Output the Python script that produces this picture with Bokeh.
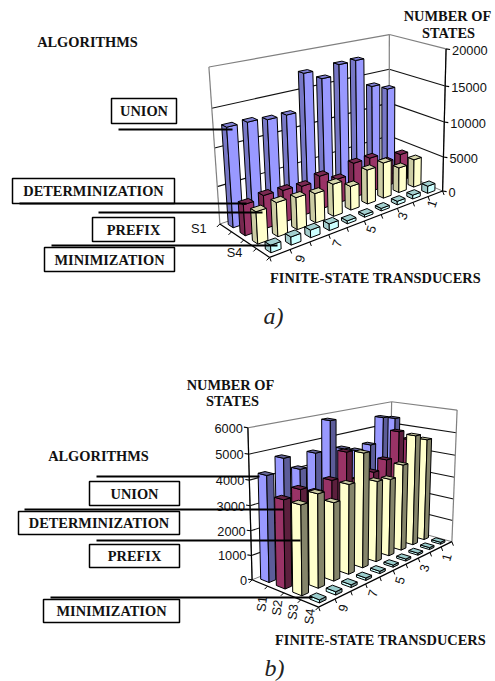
import numpy as np
from bokeh.plotting import figure
from bokeh.embed import file_html
from bokeh.resources import INLINE
from bokeh.core.properties import value

CATEGORIES = [1, 2, 3, 4, 5, 6, 7, 8, 9, 10]
SERIES = ["S1", "S2", "S3", "S4"]

# panel a), categories 1..10
A_UNION = [12900, 13800, 17900, 17800, 16400, 17600, 12700, 12700, 13000, 13000]
A_DETERMINIZATION = [4000, 3600, 4900, 4900, 3400, 4600, 4000, 4250, 4400, 4050]
A_PREFIX = [4050, 3600, 5050, 4800, 3300, 4400, 3950, 4250, 4450, 4150]
A_MINIMIZATION = [1050, 550, 500, 350, 350, 400, 900, 1000, 1050, 950]
A_TICKS = [0, 5000, 10000, 15000, 20000]

# panel b), categories 1..10
B_UNION = [5370, 5520, 4420, 4300, 4530, 5850, 4650, 4150, 4750, 4250]
B_DETERMINIZATION = [4500, 5000, 3890, 3510, 3340, 4680, 3690, 3380, 3690, 3490]
B_PREFIX = [4630, 4940, 3810, 3360, 3450, 4780, 3690, 3160, 3700, 3480]
B_MINIMIZATION = [90, 90, 90, 90, 90, 100, 100, 110, 130, 120]
B_TICKS = [0, 1000, 2000, 3000, 4000, 5000, 6000]

CAT_LABELS = ["1", "3", "5", "7", "9"]

SERIF = value("Liberation Serif")
SANS = value("Liberation Sans")


def fit_camera(pairs):
    """Least-squares projective camera from (u, v, w) -> (x, y) correspondences."""
    rows, rhs = [], []
    for (u, v, w), (x, y) in pairs:
        rows.append([u, v, w, 1, 0, 0, 0, 0, -x * u, -x * v, -x * w])
        rhs.append(x)
        rows.append([0, 0, 0, 0, u, v, w, 1, -y * u, -y * v, -y * w])
        rhs.append(y)
    sol = np.linalg.lstsq(np.array(rows, float), np.array(rhs, float), rcond=None)[0]
    return np.append(sol, 1).reshape(3, 4)


def project(cam, u, v, w):
    h = cam @ np.array([u, v, w, 1.0])
    return h[0] / h[2], h[1] / h[2]


p = figure(width=495, height=681, x_range=(0, 495), y_range=(681, 0),
           output_backend="svg", toolbar_location=None, min_border=0,
           outline_line_color=None, background_fill_color="white")
p.axis.visible = False
p.grid.visible = False


def seg(cam, a, b, color, width=1.0):
    x0, y0 = project(cam, *a)
    x1, y1 = project(cam, *b)
    p.line([x0, x1], [y0, y1], line_color=color, line_width=width)


def draw_chart(cam, data, ticks, faces, hu, hv):
    vmax = ticks[-1]
    # walls: outer edges in grey, gridlines in black
    for t in ticks[1:-1]:
        w = t / vmax
        seg(cam, (10, 0, w), (0, 0, w), "#111111", 1.1)
        seg(cam, (0, 0, w), (0, 4, w), "#111111", 1.1)
    seg(cam, (10, 0, 1), (0, 0, 1), "#808080", 1.2)
    seg(cam, (0, 0, 1), (0, 4, 1), "#808080", 1.2)
    seg(cam, (0, 0, 0), (0, 0, 1), "#808080", 1.2)
    seg(cam, (10, 0, 0), (10, 0, 1), "#808080", 1.2)
    seg(cam, (0, 4, 0), (0, 4, 1), "#808080", 1.2)
    # floor
    seg(cam, (0, 0, 0), (10, 0, 0), "#808080")
    seg(cam, (0, 0, 0), (0, 4, 0), "#808080")
    # bars, painted from the far corner toward the viewer
    for s, vals in enumerate(data):
        for c, val in zip(CATEGORIES, vals):
            u0, u1 = c - 0.5 - hu, c - 0.5 + hu
            v0, v1 = s + 0.5 - hv, s + 0.5 + hv
            w = val / vmax
            quads = [
                ([(u1, v0, 0), (u1, v1, 0), (u1, v1, w), (u1, v0, w)], faces[s][0]),
                ([(u0, v1, 0), (u1, v1, 0), (u1, v1, w), (u0, v1, w)], faces[s][1]),
                ([(u0, v0, w), (u1, v0, w), (u1, v1, w), (u0, v1, w)], faces[s][2]),
            ]
            for corners, col in quads:
                xy = [project(cam, *q) for q in corners]
                p.patch([q[0] for q in xy], [q[1] for q in xy], fill_color=col,
                        line_color="black", line_width=1)


def axis_edges(cam, value_axis_base, vmax_ticks, tick_dx):
    seg(cam, (0, 4, 0), (10, 4, 0), "black", 1.2)
    seg(cam, (10, 4, 0), (10, 0, 0), "black", 1.2)
    seg(cam, value_axis_base + (0,), value_axis_base + (1,), "black", 1.2)
    vmax = vmax_ticks[-1]
    for t in vmax_ticks:
        x, y = project(cam, *value_axis_base, t / vmax)
        p.line([x, x + tick_dx], [y, y + tick_dx * 0.15], line_color="black", line_width=1.1)
    # tick marks along the two floor axes
    for c in range(0, 11):
        x, y = project(cam, c, 4, 0)
        p.line([x, x + 1.5], [y, y + 4], line_color="black", line_width=1)
    for s in range(0, 5):
        x, y = project(cam, 10, s, 0)
        p.line([x, x - 3], [y, y + 3], line_color="black", line_width=1)


def label(x, y, text, size=14.4, font=SERIF, style="bold", align="center", angle=0.0, color="#111111"):
    p.text([x], [y], text=[text], text_font=font, text_font_size=f"{size}px",
           text_font_style=style, text_align=align, text_baseline="middle",
           angle=angle, text_color=color)


def callout(x0, y0, x1, y1, text, lx0, lx1, ly):
    p.quad(left=[x0], right=[x1], top=[y0], bottom=[y1], fill_color="white",
           line_color="black", line_width=1.5)
    label((x0 + x1) / 2, (y0 + y1) / 2, text)
    p.line([lx0, lx1], [ly, ly], line_color="black", line_width=2)


# --- panel a) ---
CAM_A = fit_camera([
    ((0, 0, 1), (387, 34)), ((0, 4, 1), (447, 48)), ((10, 0, 1), (209, 67)),
    ((0, 0, 0), (391, 168)), ((0, 4, 0), (440, 190)), ((10, 4, 0), (270, 258)),
    ((10, 0, 0), (218, 222)),
])
FACES_A = [
    ("#7777C6", "#9999FF", "#8080D4"),
    ("#77284F", "#993366", "#7A2952"),
    ("#CCCCA3", "#FFFFCC", "#D6D6AC"),
    ("#A3CCCC", "#CCFFFF", "#A3D0D0"),
]
draw_chart(CAM_A, [A_UNION, A_DETERMINIZATION, A_PREFIX, A_MINIMIZATION], A_TICKS, FACES_A, 0.25, 0.21)
axis_edges(CAM_A, (0, 4), A_TICKS, 4)
for t in A_TICKS:
    x, y = project(CAM_A, 0, 4, t / A_TICKS[-1])
    label(x + 6, y + 1.5, str(t), size=12.8, font=SANS, style="normal", align="left")
for lab in CAT_LABELS:
    c = int(lab)
    x, y = project(CAM_A, c - 0.5, 4, 0)
    label(x + (c - 9) * 0.43, y + 13 - (9 - c) * 0.4, lab, size=12.8, font=SANS, style="normal", angle=1.25)
x, y = project(CAM_A, 10, 0, 0)
label(x - 21, y + 5, "S1", size=12.8, font=SANS, style="normal")
x, y = project(CAM_A, 10, 4, 0)
label(x - 35, y - 5, "S4", size=12.8, font=SANS, style="normal")

label(87, 41, "ALGORITHMS")
label(447, 15, "NUMBER OF")
label(448, 32, "STATES")
label(375, 277, "FINITE-STATE TRANSDUCERS")
label(273, 315, "a)", size=24, style="italic", color="#222222")
callout(111, 98, 176, 123, "UNION", 118, 232, 129)
callout(12, 178, 174, 203, "DETERMINIZATION", 19, 246, 203)
callout(92, 217, 174, 241, "PREFIX", 98, 262, 212)
callout(44, 247, 174, 271, "MINIMIZATION", 51, 277, 245)

# --- panel b) ---
CAM_B = fit_camera([
    ((0, 0, 1), (392, 402)), ((0, 4, 1), (456, 409)), ((10, 0, 1), (247, 427)),
    ((0, 0, 0), (388, 522)), ((0, 4, 0), (452, 543)), ((10, 4, 0), (318, 605)),
    ((10, 0, 0), (252, 581)),
])
FACES_B = [
    ("#9999FF", "#5C5C99", "#666699"),
    ("#993366", "#5C1F3D", "#662244"),
    ("#FFFFCC", "#85856A", "#CCCCA3"),
    ("#CCFFFF", "#7A9999", "#99CCCC"),
]
draw_chart(CAM_B, [B_UNION, B_DETERMINIZATION, B_PREFIX, B_MINIMIZATION], B_TICKS, FACES_B, 0.2, 0.27)
axis_edges(CAM_B, (10, 0), B_TICKS, -4)
for t in B_TICKS:
    x, y = project(CAM_B, 10, 0, t / B_TICKS[-1])
    label(x - 5, y + 0.5, str(t), size=12.8, font=SANS, style="normal", align="right")
for lab in CAT_LABELS:
    x, y = project(CAM_B, int(lab) - 0.5, 4, 0)
    label(x, y + 13, lab, size=12.8, font=SANS, style="normal", angle=1.3)
for s, name in enumerate(SERIES):
    x, y = project(CAM_B, 10, s + 0.5, 0)
    label(x + 2 - 0.7 * s, y + 21 - 2.7 * s, name, size=12.8, font=SANS, style="normal", angle=1.45)

label(230, 384, "NUMBER OF")
label(232, 400, "STATES")
label(98, 455, "ALGORITHMS")
label(380, 639, "FINITE-STATE TRANSDUCERS")
label(274, 667, "b)", size=24, style="italic", color="#222222")
callout(89, 481, 179, 505, "UNION", 96, 259, 476)
callout(18, 511, 179, 534, "DETERMINIZATION", 24, 283, 509)
callout(89, 544, 179, 567, "PREFIX", 96, 300, 540)
callout(43, 599, 179, 622, "MINIMIZATION", 50, 312, 597)

open("out.html", "w").write(file_html(p, INLINE))
